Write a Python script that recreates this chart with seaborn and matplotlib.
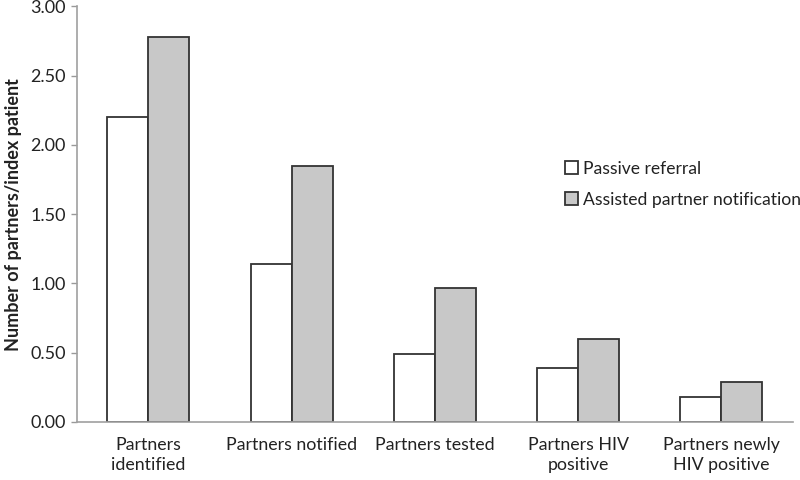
import matplotlib
matplotlib.use("Agg")
import matplotlib.pyplot as plt
import seaborn as sns
import pandas as pd

categories = ["Partners\nidentified", "Partners notified", "Partners tested",
              "Partners HIV\npositive", "Partners newly\nHIV positive"]
passive = [2.20, 1.14, 0.49, 0.39, 0.18]
assisted = [2.78, 1.85, 0.97, 0.60, 0.29]
series = ["Passive referral", "Assisted partner notification"]

df = pd.DataFrame({
    "cat": categories * 2,
    "val": passive + assisted,
    "series": [series[0]] * 5 + [series[1]] * 5,
})

sns.set_theme(style="white")
plt.rcParams["font.family"] = ["Lato", "DejaVu Sans"]

fig = plt.figure(figsize=(8, 4.8), dpi=100)
ax = fig.add_axes([0.096, 0.121, 0.895, 0.866])

sns.barplot(data=df, x="cat", y="val", hue="series", order=categories,
            hue_order=series, palette=["white", "#c8c8c8"], width=0.573,
            edgecolor="#333333", linewidth=1.3, ax=ax, errorbar=None,
            saturation=1)

ax.set_xlim(-0.5, 4.5)
ax.set_ylim(0, 3.0)
ticks = [0, 0.5, 1.0, 1.5, 2.0, 2.5, 3.0]
ax.set_yticks(ticks)
ax.set_yticklabels([f"{v:.2f}" for v in ticks], fontsize=13, color="#222222")
ax.tick_params(axis="x", labelsize=12.8, colors="#222222", length=0, pad=11)
for lab in ax.get_xticklabels():
    lab.set_linespacing(1.3)
ax.tick_params(axis="y", length=4, color="#999999", width=1, left=True, pad=4)
ax.set_xlabel("")
ax.set_ylabel("Number of partners/index patient", fontsize=13, fontweight="bold",
              color="#222222", labelpad=6)
for s in ["top", "right"]:
    ax.spines[s].set_visible(False)
for s in ["left", "bottom"]:
    ax.spines[s].set_color("#a0a0a0")
    ax.spines[s].set_linewidth(1.2)

leg = ax.legend(loc="upper left", bbox_to_anchor=(0.672, 0.645), frameon=False,
                fontsize=12.6, handlelength=0.75, handleheight=0.75,
                handletextpad=0.3, labelspacing=0.85, borderaxespad=0)
for t in leg.get_texts():
    t.set_color("#222222")

fig.savefig("out.png", dpi=100)
